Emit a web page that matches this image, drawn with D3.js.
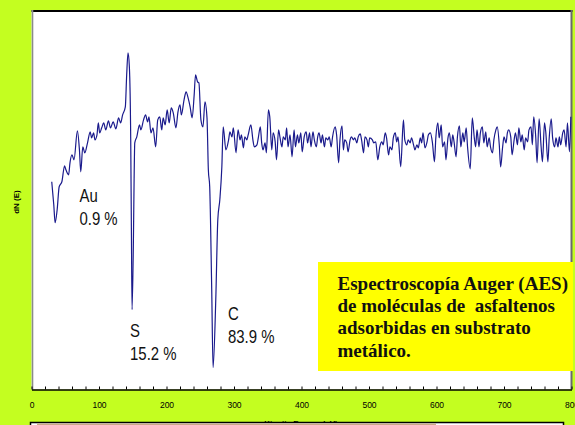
<!DOCTYPE html>
<html>
<head>
<meta charset="utf-8">
<script src="https://cdn.jsdelivr.net/npm/d3@7"></script>
<style>
  body { margin: 0; background: #c4fe20; }
  svg { display: block; }
</style>
</head>
<body>
<div id="chart"></div>
<script>
// kinetic energy (eV) of each sample
var energy = [30,33,35,38,41,45,49,51,55,57,60,63,68,71,73,76,79,83,87,89,92,94,97,99,101,104,107,110,114,117,121,125,129,132,135,139,141,143,145,147,148,149,151,152,153,156,160,162,166,169,172,174,177,180,184,187,190,193,195,198,201,204,207,210,214,217,220,222,226,229,232,235,238,241,243,246,248,251,254,257,260,262,264,267,269,273,276,279,282,284,288,292,294,297,299,303,306,309,311,314,316,319,321,325,328,330,334,336,339,341,343,346,348,351,353,356,358,361,363,366,368,371,373,376,378,380,383,386,389,391,394,396,399,401,404,407,409,412,414,417,419,422,424,426,429,431,434,436,439,441,444,446,450,452,455,457,460,462,464,467,469,472,474,477,479,482,484,487,489,492,494,497,499,501,505,507,510,513,516,519,521,524,526,529,531,534,536,539,541,543,547,551,553,556,558,561,563,566,568,571,573,576,578,580,583,586,588,591,594,597,599,602,604,607,609,612,614,617,619,622,624,626,629,631,634,636,639,641,644,646,650,653,656,658,660,663,665,668,670,673,675,678,680,683,685,688,690,693,695,698,700,703,705,707,710,712,715,717,720,722,725,727,730,732,735,737,740,742,744,747,749,752,755,757,760,762,765,767,770,772,775,777,780,782,784,787,789,792,794,797,799];

// dN(E), arbitrary units
var dNE = [-42,-65,-83,-70,-47,-42,-26,-30,-35,-23,-15,-20,9,-10,-32,-7,-13,-3,8,2,7,0,5,17,7,12,17,10,19,12,18,11,22,17,25,33,65,87,73,0,-90,-170,-100,-40,-3,3,15,10,20,25,18,23,7,12,-7,20,23,10,22,15,30,17,32,27,12,28,35,25,40,48,42,33,22,45,65,58,57,20,13,38,22,-30,-47,-150,-228,-160,-80,-60,-27,13,-10,0,8,3,12,-13,10,0,5,-8,3,0,5,15,0,-7,-5,2,13,-3,-10,-3,-13,30,23,-10,7,-2,-20,10,3,-7,3,0,12,-7,5,-17,10,-7,5,-3,7,-12,3,8,-3,7,-7,8,0,-7,3,7,-3,5,-7,2,0,3,-7,3,13,5,-23,0,14,-10,0,-3,-12,0,3,0,2,-3,3,6,0,-13,3,0,-7,2,0,-3,-2,-20,-7,-2,-5,7,2,-15,-7,-10,2,7,-2,3,-27,20,0,-5,0,-3,2,-5,-10,-5,-8,2,-3,7,-8,-2,5,7,-3,-22,2,17,2,15,-7,-2,-20,2,7,-7,5,-2,-17,3,14,-7,7,-2,12,-7,-29,22,2,-7,10,-7,7,13,-3,8,-7,2,-7,-13,0,10,13,-5,-27,-7,3,-3,7,10,3,-15,0,7,-5,12,-2,5,-10,2,-2,10,13,-5,23,3,-23,21,-7,-22,17,7,-22,2,21,2,-7,2,-7,3,-5,7,10,-7,17,-12,23];

var xTicks = [0,100,200,300,400,500,600,700,800];

var peakNames = ["Au", "S", "C"];
var peakPct = ["0.9 %", "15.2 %", "83.9 %"];
// where each label sits, in [eV, dN(E)]
var peakLabelAt = [[71, -62], [146, -197], [291, -180]];

var boxLines = ["Espectroscopía Auger (AES)", "de moléculas de  asfaltenos", "adsorbidas en substrato", "metálico."];

var W = 575, H = 425;
var pLeft = 31.5, pRight = 571.5, pTop = 10, pBottom = 389.5;

var svg = d3.select("#chart").append("svg").attr("width", W).attr("height", H);

var x = d3.scaleLinear().domain([0, 800]).range([pLeft, pRight]);
var y = d3.scaleLinear().domain([-250, 130]).range([pBottom, pTop]);

// white plotting area
svg.append("rect").attr("x", pLeft).attr("y", pTop).attr("width", pRight - pLeft).attr("height", pBottom - pTop).attr("fill", "#fff");

// frame: black top, grey sides
svg.append("line").attr("x1", pLeft).attr("x2", pRight + 1).attr("y1", pTop + 1).attr("y2", pTop + 1).attr("stroke", "#000").attr("stroke-width", 2);
svg.append("line").attr("x1", pLeft + 1).attr("x2", pLeft + 1).attr("y1", pTop).attr("y2", pBottom).attr("stroke", "#8a8a8a").attr("stroke-width", 1.6);
svg.append("line").attr("x1", pRight).attr("x2", pRight).attr("y1", pTop).attr("y2", pBottom).attr("stroke", "#6a6a6a").attr("stroke-width", 2);

// the spectrum
var pts = energy.map(function(e, i) { return [e, dNE[i]]; });
var line = d3.line().x(function(d) { return x(d[0]); }).y(function(d) { return y(d[1]); }).curve(d3.curveMonotoneX);
svg.append("path").datum(pts).attr("d", line).attr("fill", "none").attr("stroke", "#1a1a8c").attr("stroke-width", 1.2);

// x axis, ticks pointing up into the plot
var xAxis = d3.axisBottom(x).tickValues(d3.range(0, 801, 20)).tickSizeInner(-3).tickSizeOuter(0).tickPadding(12)
  .tickFormat(function(d) { return xTicks.indexOf(d) >= 0 ? d : ""; });
var gx = svg.append("g").attr("transform", "translate(0," + pBottom + ")").call(xAxis);
gx.select(".domain").attr("stroke", "#000").attr("stroke-width", 1.5);
gx.selectAll(".tick line").attr("stroke", "#000");
gx.selectAll("text").attr("font-family", "Liberation Sans, Arial, sans-serif").attr("font-size", 8.5).attr("fill", "#000");

// axis titles
svg.append("text").attr("x", 301).attr("y", 425.5).attr("text-anchor", "middle")
  .attr("font-family", "Liberation Sans, Arial, sans-serif").attr("font-size", 8).attr("font-weight", "bold")
  .text("Kinetic Energy (eV)");
svg.append("text").attr("transform", "translate(18.5,202) rotate(-90)").attr("text-anchor", "middle")
  .attr("font-family", "Liberation Sans, Arial, sans-serif").attr("font-size", 8).attr("font-weight", "bold")
  .text("dN (E)");

// element labels
peakNames.forEach(function(n, i) {
  var g = svg.append("g").attr("transform", "translate(" + x(peakLabelAt[i][0]) + "," + y(peakLabelAt[i][1]) + ") scale(0.83,1)")
    .attr("font-family", "Liberation Sans, Arial, sans-serif").attr("font-size", 18).attr("fill", "#111");
  g.append("text").attr("x", 0).attr("y", 0).text(n);
  g.append("text").attr("x", 0).attr("y", 23.5).text(peakPct[i]);
});

// yellow caption box
svg.append("rect").attr("x", 318).attr("y", 262).attr("width", 255).attr("height", 109).attr("fill", "#ffff00");
svg.selectAll(".cap").data(boxLines).enter().append("text")
  .attr("x", 337.5).attr("y", function(d, i) { return 290 + i * 22.2; })
  .attr("font-family", "Liberation Serif, Times New Roman, serif").attr("font-size", 19).attr("font-weight", "bold")
  .attr("fill", "#111").style("white-space", "pre")
  .text(function(d) { return d; });

// the next slide element peeking in at the bottom
svg.append("rect").attr("x", 30.5).attr("y", 422.5).attr("width", 533).attr("height", 10).attr("fill", "#fff").attr("stroke", "#000").attr("stroke-width", 1.5);
svg.append("rect").attr("x", 37).attr("y", 423.5).attr("width", 399).attr("height", 5).attr("fill", "#c9a987");
</script>
</body>
</html>
